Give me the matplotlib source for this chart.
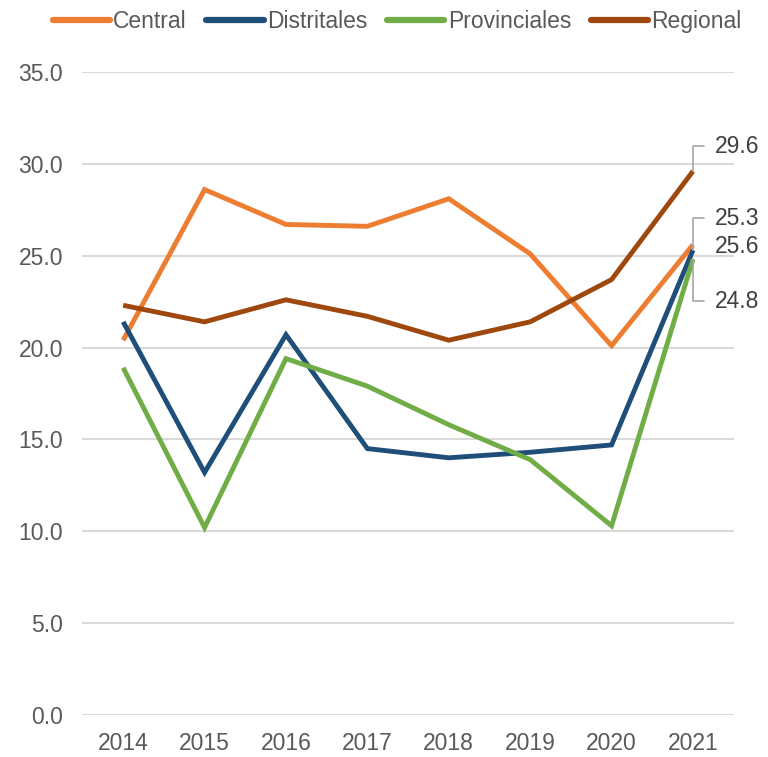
import numpy as np
import matplotlib.pyplot as plt

plt.rcParams['font.family'] = ['Liberation Sans', 'DejaVu Sans']

# Years and series values
years = ['2014', '2015', '2016', '2017', '2018', '2019', '2020', '2021']
central = [20.4, 28.6, 26.7, 26.6, 28.1, 25.1, 20.1, 25.6]
distritales = [21.4, 13.2, 20.7, 14.5, 14.0, 14.3, 14.7, 25.3]
provinciales = [18.9, 10.2, 19.4, 17.9, 15.8, 13.9, 10.3, 24.8]
regional = [22.3, 21.4, 22.6, 21.7, 20.4, 21.4, 23.7, 29.6]

series_names = ['Central', 'Distritales', 'Provinciales', 'Regional']
series_colors = ['#ED7D31', '#1F4E79', '#70AD47', '#9E480E']

# Offsets (points) for the end labels, and whether a leader line is drawn
label_offsets = {'Regional': (16, 18, True), 'Distritales': (16, 23, True),
                 'Central': (16, -1, False), 'Provinciales': (16, -30, True)}

fs = 16.5

fig = plt.figure(figsize=(7.68, 7.57), dpi=100)
ax = fig.add_axes([0.1074, 0.0555, 0.8479, 0.8494])

x = np.arange(len(years))
data = [central, distritales, provinciales, regional]
for name, vals, col in zip(series_names, data, series_colors):
    ax.plot(x, vals, color=col, lw=3.5, label=name, solid_joinstyle='miter',
            solid_capstyle='butt', zorder=3)

# Labels on the last point of each series
for name, vals in zip(series_names, data):
    dx, dy, leader = label_offsets[name]
    props = None
    if leader:
        props = dict(arrowstyle='-', color='#A6A6A6', lw=1.2,
                     connectionstyle='angle,angleA=0,angleB=90,rad=0',
                     relpos=(0, 0.5), shrinkA=6, shrinkB=0)
    ax.annotate(f'{vals[-1]:.1f}', xy=(x[-1], vals[-1]), xytext=(dx, dy),
                textcoords='offset points', ha='left', va='center',
                fontsize=fs, color='#404040', arrowprops=props,
                annotation_clip=False)

ax.set_xlim(-0.5, len(years) - 0.5)
ax.set_ylim(0, 35)
ax.set_xticks(x)
ax.set_xticklabels(years)
ax.set_yticks(np.arange(0, 36, 5))
ax.set_yticklabels([f'{v:.1f}' for v in np.arange(0, 36, 5)])
ax.tick_params(axis='both', length=0, labelsize=fs, colors='#595959')
ax.tick_params(axis='y', pad=14)
ax.tick_params(axis='x', pad=12)
ax.grid(axis='y', color='#D9D9D9', lw=1.5, zorder=0)
ax.set_axisbelow(True)
for sp in ax.spines.values():
    sp.set_visible(False)

leg = fig.legend(loc='center', bbox_to_anchor=(0.517, 0.972), ncol=4,
                 frameon=False, fontsize=fs, handlelength=2.5,
                 handletextpad=0.15, columnspacing=0.85, labelcolor='#595959')
for line in leg.get_lines():
    line.set_linewidth(4.5)
    line.set_solid_capstyle('round')

fig.savefig('out.png', dpi=100)
